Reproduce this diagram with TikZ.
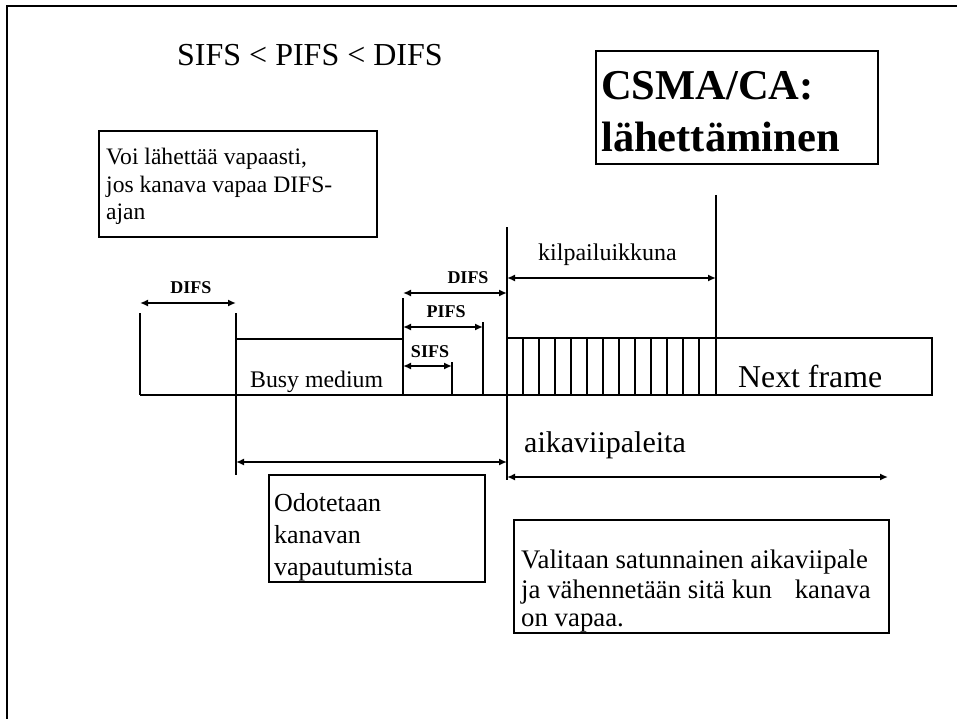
\documentclass[tikz,border=0pt]{standalone}
\usepackage{fontspec}
\setmainfont{Liberation Serif}
\usetikzlibrary{arrows.meta}
\begin{document}
\begin{tikzpicture}[x=1pt,y=-1pt,
  ln/.style={line width=1.8pt},
  dim/.style={line width=1.8pt,{Latex[length=8pt,width=7pt]}-{Latex[length=8pt,width=7pt]}},
  txt/.style={anchor=base west,inner sep=0pt},
  lbl/.style={anchor=base,inner sep=0pt,font=\bfseries\fontsize{18}{20}\selectfont},
  box/.style={draw,line width=1.8pt,inner sep=0pt,anchor=north west},
]
\useasboundingbox (0,0) rectangle (957,719);
% outer frame (cropped)
\coordinate (fr0) at (7,6);
\coordinate (fr1) at (957,6);
\coordinate (fr2) at (7,719);
\draw[line width=2.4pt] (fr2) -- (fr0) -- (fr1);

% titles
\node[txt,font=\fontsize{32}{36}\selectfont] (ineq) at (177,66) {SIFS < PIFS < DIFS};
\node[box,minimum width=282pt,minimum height=113pt] (csmabox) at (595,50) {};
\node[txt,font=\bfseries\fontsize{42.5}{48}\selectfont] (csma1) at (601,100) {CSMA/CA:};
\node[txt,font=\bfseries\fontsize{42.5}{48}\selectfont] (csma2) at (601,152) {lähettäminen};

% Voi box
\node[box,minimum width=278pt,minimum height=106pt] (voibox) at (98,130) {};
\node[txt,font=\fontsize{23.6}{27}\selectfont] (voi1) at (106,165) {Voi lähettää vapaasti,};
\node[txt,font=\fontsize{23.6}{27}\selectfont] (voi2) at (106,193) {jos kanava vapaa DIFS-};
\node[txt,font=\fontsize{23.6}{27}\selectfont] (voi3) at (106,220) {ajan};

% key coordinates of the time line
\coordinate (b0) at (140,395);
\coordinate (bE) at (932,395);
\coordinate (v1t) at (140,313);
\coordinate (v2t) at (236,313);
\coordinate (v2b) at (236,475);
\coordinate (v2m) at (236,339);
\coordinate (v3t) at (403,298);
\coordinate (v3b) at (403,395);
\coordinate (v3m) at (403,339);
\coordinate (v4t) at (452,362);
\coordinate (v4b) at (452,395);
\coordinate (v5t) at (483,322);
\coordinate (v5b) at (483,395);
\coordinate (v6t) at (507,227);
\coordinate (v6b) at (507,480);
\coordinate (v7t) at (716,195);
\coordinate (v7b) at (716,395);
\coordinate (st) at (507,338);
\coordinate (stE) at (932,338);

\draw[ln] (b0) -- (bE) -- (stE) -- (st);
\draw[ln] (v1t) -- (b0);
\draw[ln] (v2t) -- (v2b);
\draw[ln] (v2m) -- (v3m);
\draw[ln] (v3t) -- (v3b);
\draw[ln] (v4t) -- (v4b);
\draw[ln] (v5t) -- (v5b);
\draw[ln] (v6t) -- (v6b);
\draw[ln] (v7t) -- (v7b);
\foreach \k in {0,...,11} {
  \draw[ln] ({523+16*\k},338) -- ({523+16*\k},395);
}

% dimension arrows
\coordinate (a1l) at (140,303); \coordinate (a1r) at (236,303);
\coordinate (a2l) at (403,293); \coordinate (a2r) at (507,293);
\coordinate (a3l) at (403,327); \coordinate (a3r) at (483,327);
\coordinate (a4l) at (403,366); \coordinate (a4r) at (452,366);
\coordinate (a5l) at (507,278); \coordinate (a5r) at (716,278);
\coordinate (a6l) at (236,462); \coordinate (a6r) at (507,462);
\coordinate (a7l) at (507,477); \coordinate (a7r) at (888,477);
\draw[dim] (a1l) -- (a1r);
\draw[dim] (a2l) -- (a2r);
\draw[dim] (a3l) -- (a3r);
\draw[dim] (a4l) -- (a4r);
\draw[dim] (a5l) -- (a5r);
\draw[dim] (a6l) -- (a6r);
\draw[dim] (a7l) -- (a7r);

% labels
\node[lbl] (difs1) at (191,293) {DIFS};
\node[lbl] (difs2) at (468,283) {DIFS};
\node[lbl] (pifs) at (446,317) {PIFS};
\node[lbl] (sifs) at (430,357) {SIFS};
\node[txt,font=\fontsize{23.8}{27}\selectfont] (busy) at (250,387) {Busy medium};
\node[txt,font=\fontsize{24}{27}\selectfont] (kilpa) at (538,260) {kilpailuikkuna};
\node[txt,font=\fontsize{31.8}{36}\selectfont] (next) at (738,387) {Next frame};
\node[txt,font=\fontsize{30}{34}\selectfont] (aika) at (524,452) {aikaviipaleita};

% Odotetaan box
\node[box,minimum width=216pt,minimum height=107pt] (odbox) at (268,474) {};
\node[txt,font=\fontsize{26}{30}\selectfont] (od1) at (274,511) {Odotetaan};
\node[txt,font=\fontsize{26}{30}\selectfont] (od2) at (274,543) {kanavan};
\node[txt,font=\fontsize{26}{30}\selectfont] (od3) at (274,575) {vapautumista};

% Valitaan box
\node[box,minimum width=375pt,minimum height=113pt] (valbox) at (513,519) {};
\node[txt,font=\fontsize{26.8}{30}\selectfont] (va1) at (521,568) {Valitaan satunnainen aikaviipale};
\node[txt,font=\fontsize{26.8}{30}\selectfont] (va2) at (521,598) {ja vähennetään sitä kun\hspace{0.6em} kanava};
\node[txt,font=\fontsize{26.8}{30}\selectfont] (va3) at (521,626) {on vapaa.};
\end{tikzpicture}
\end{document}
